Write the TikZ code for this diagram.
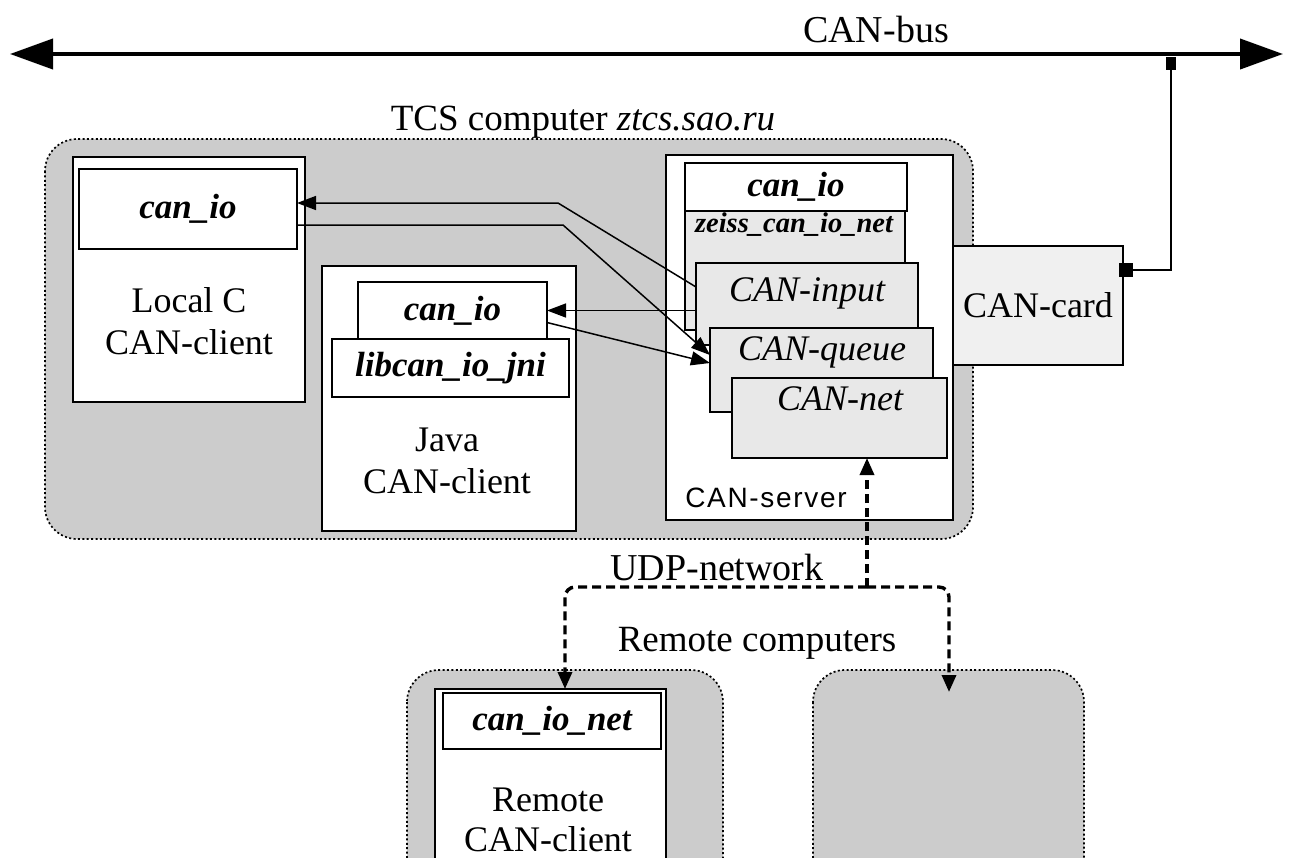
\documentclass[tikz,border=0pt]{standalone}
\usepackage{fontspec}
\setmainfont{Liberation Serif}
\newfontfamily\sansf{Liberation Sans}
\usetikzlibrary{arrows.meta,positioning}
\begin{document}
\begin{tikzpicture}[x=1pt,y=-1pt,
  every node/.style={inner sep=0pt, outer sep=0pt},
  comp/.style={draw, fill=gray!40, rounded corners=32pt, line width=1.7pt, dash pattern=on 2pt off 2.4pt},
  wbox/.style={draw, fill=white, line width=1.6pt, anchor=north west},
  gbox/.style={draw, fill=gray!18, line width=1.6pt, anchor=north west},
  big/.style={font=\fontsize{36}{42}\selectfont, align=center},
  bi/.style={font=\fontsize{35}{40}\selectfont\bfseries\itshape},
  itl/.style={font=\fontsize{36}{40}\selectfont\itshape},
  arr/.style={line width=1.5pt, -{Triangle[length=19pt,width=14pt]}},
  udp/.style={line width=3.4pt, dash pattern=on 9pt off 5pt, -{Triangle[length=17pt,width=14pt]}},
  sq/.style={fill=black, draw=none}
]
\clip (0,0) rectangle (1290,857);
\fill[white] (0,0) rectangle (1290,857);

% CAN bus
\coordinate (busL) at (10,54);
\coordinate (busR) at (1283,54);
\draw[line width=4pt, {Triangle[length=43pt,width=30pt]}-{Triangle[length=43pt,width=30pt]}] (busL) -- (busR);
\node[font=\fontsize{38}{42}\selectfont] (buslbl) at (876,30) {CAN-bus};

% TCS computer
\draw[comp] (45,139) rectangle (973,539);
\node[font=\fontsize{37}{42}\selectfont] (tcslbl) at (583,122) {TCS computer \textit{ztcs.sao.ru}};

% Local C client
\node[wbox, minimum width=232pt, minimum height=245pt] (localC) at (73,157) {};
\node[wbox, minimum width=218pt, minimum height=80pt, bi] (localio) at (79,169) {can\_io};
\node[big] (localtxt) at (189,321) {Local C\\CAN-client};

% Java client
\node[wbox, minimum width=254pt, minimum height=265pt] (java) at (322,266) {};
\node[wbox, minimum width=237pt, minimum height=58pt, bi] (jni) at (332,339) {libcan\_io\_jni};
\node[wbox, minimum width=189pt, minimum height=57pt, bi] (javaio) at (358,282) {can\_io};
\node[big] (javatxt) at (447,461) {Java\\CAN-client};

% CAN server
\node[wbox, minimum width=287pt, minimum height=365pt] (server) at (666,155) {};
\node[gbox, minimum width=220pt, minimum height=119pt] (zeiss) at (685,211) {};
\node[font=\fontsize{28.5}{30}\selectfont\bfseries\itshape] (zeisstxt) at (794,225) {zeiss\_can\_io\_net};
\node[wbox, minimum width=222pt, minimum height=48pt, bi] (srvio) at (685,163) {can\_io};
\node[gbox, minimum width=222pt, minimum height=82pt] (input) at (696,263) {};
\node[itl] (inputtxt) at (807,293) {CAN-input};
\node[gbox, minimum width=223pt, minimum height=84pt] (queue) at (710,328) {};
\node[itl] (queuetxt) at (822,352) {CAN-queue};
\node[gbox, minimum width=215pt, minimum height=80pt] (net) at (732,378) {};
\node[itl] (nettxt) at (840,399) {CAN-net};
\node[font=\sansf\fontsize{28}{32}\selectfont\addfontfeature{LetterSpace=6}] (srvtxt) at (766,498) {CAN-server};

% CAN card
\node[draw, fill=gray!12, line width=1.6pt, anchor=north west, minimum width=170pt, minimum height=119pt] (card) at (953,246) {};
\node[font=\fontsize{36}{40}\selectfont] (cardtxt) at (1038,305) {CAN-card};
\node[sq, minimum width=14pt, minimum height=14pt] (cardsq) at (1126,270) {};
\node[sq, minimum width=10pt, minimum height=13pt] (tapsq) at (1171,63) {};
\draw[line width=1.6pt] (tapsq) |- (cardsq);

% arrows between clients and server
\draw[arr] ([yshift=17pt]input.west) -- (558,203) -- ([yshift=6pt]localio.east);
\draw[arr] ([yshift=-16pt]localio.east) -- (563,225) -- ([yshift=15pt]queue.west);
\draw[arr] (input.west |- javaio.east) -- (javaio.east);
\draw[arr] ([yshift=-12pt]javaio.east) -- ([yshift=7pt]queue.west);

% remote computers
\draw[comp] (407,670) rectangle (723,900);
\draw[comp] (813,670) rectangle (1084,900);
\node[wbox, minimum width=231pt, minimum height=220pt] (remclient) at (435,689) {};
\node[wbox, minimum width=218pt, minimum height=56pt, bi] (canionet) at (443,693) {can\_io\_net};
\node[big, font=\fontsize{36}{40}\selectfont] (remtxt) at (548,820) {Remote\\CAN-client};
\coordinate (remote2) at (949,670);

\node[font=\fontsize{38}{42}\selectfont] (udplbl) at (717,567) {UDP-network};
\node[font=\fontsize{37}{42}\selectfont] (remlbl) at (757,643) {Remote computers};

% UDP network
\coordinate (j) at (867,587);
\draw[udp] (j) -- ([xshift=27.5pt]net.south);
\draw[udp, rounded corners=10pt] (j) -| ([xshift=14.5pt]remclient.north);
\draw[udp, rounded corners=10pt] (j) -| ([yshift=-22pt]remote2);
\end{tikzpicture}
\end{document}
